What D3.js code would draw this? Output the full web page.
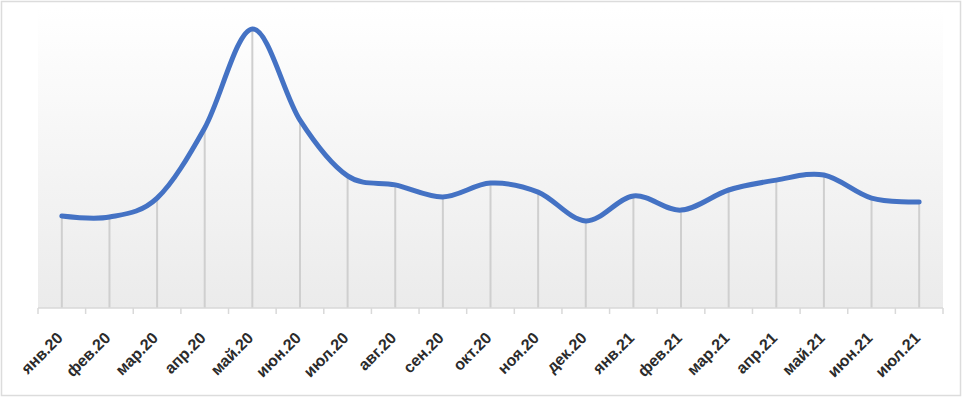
<!DOCTYPE html>
<html>
<head>
<meta charset="utf-8">
<script src="https://cdn.jsdelivr.net/npm/d3@7"></script>
<style>
  body { margin: 0; background: #fff; }
  svg { display: block; }
</style>
</head>
<body>
<script>
let width = 964;
let height = 398;

// months on the x axis
let months = ['янв.20', 'фев.20', 'мар.20', 'апр.20', 'май.20', 'июн.20', 'июл.20',
  'авг.20', 'сен.20', 'окт.20', 'ноя.20', 'дек.20', 'янв.21', 'фев.21', 'мар.21',
  'апр.21', 'май.21', 'июн.21', 'июл.21'];

// series values (no y axis in the original, so relative units)
let values = [30.3, 30.0, 36.3, 59.7, 92.7, 62.3, 43.7, 40.7, 36.7, 41.3, 38.3,
  28.7, 37.0, 32.3, 39.0, 42.3, 44.0, 36.3, 35.0];

let plot = {left: 38, right: 943, top: 8, bottom: 308};

let svg = d3.select('body')
    .append('svg')
    .attr('width', width)
    .attr('height', height);

// outer frame
svg.append('rect')
    .attr('x', 1.5).attr('y', 1.5)
    .attr('width', 959).attr('height', 394)
    .attr('fill', '#fff')
    .attr('stroke', '#dcdcdc')
    .attr('stroke-width', 1.5);

let grad = svg.append('defs').append('linearGradient')
    .attr('id', 'bg')
    .attr('x1', 0).attr('y1', 0).attr('x2', 0).attr('y2', 1);
grad.append('stop').attr('offset', '0%').attr('stop-color', '#ffffff');
grad.append('stop').attr('offset', '100%').attr('stop-color', '#ebebeb');

svg.append('rect')
    .attr('x', plot.left).attr('y', plot.top)
    .attr('width', plot.right - plot.left)
    .attr('height', plot.bottom - plot.top)
    .attr('fill', 'url(#bg)');

let x = d3.scaleBand()
    .domain(months)
    .range([plot.left, plot.right]);

let y = d3.scaleLinear()
    .domain([0, 100])
    .range([plot.bottom - 1, plot.top - 1]);

let data = months.map((m, i) => ({month: m, value: values[i]}));
let cx = (d) => x(d.month) + x.bandwidth() / 2;

// drop lines
svg.append('g')
  .selectAll('line')
  .data(data)
  .enter().append('line')
    .attr('x1', cx).attr('x2', cx)
    .attr('y1', (d) => y(d.value))
    .attr('y2', plot.bottom)
    .attr('stroke', '#cfcfcf')
    .attr('stroke-width', 2);

// x axis
let axis = svg.append('g')
    .attr('transform', `translate(0,${plot.bottom})`);

axis.append('line')
    .attr('x1', plot.left).attr('x2', plot.right)
    .attr('stroke', '#d9d9d9')
    .attr('stroke-width', 1.5);

axis.selectAll('.tick')
    .data(months.concat(['end']))
  .enter().append('line')
    .attr('class', 'tick')
    .attr('x1', (d, i) => plot.left + i * x.step())
    .attr('x2', (d, i) => plot.left + i * x.step())
    .attr('y1', 0).attr('y2', 6)
    .attr('stroke', '#d9d9d9')
    .attr('stroke-width', 1.5);

axis.selectAll('text')
    .data(data)
  .enter().append('text')
    .attr('transform', (d) => `translate(${cx(d) + 2},${31}) rotate(-45)`)
    .attr('text-anchor', 'end')
    .attr('font-family', 'Liberation Sans, Arial, sans-serif')
    .attr('font-weight', 'bold')
    .attr('font-size', 16)
    .attr('fill', '#2b2b2b')
    .text((d) => d.month);

// the series line
let line = d3.line()
    .x(cx)
    .y((d) => y(d.value))
    .curve(d3.curveCardinal.tension(0));

svg.append('path')
    .datum(data)
    .attr('d', line)
    .attr('fill', 'none')
    .attr('stroke', '#4472c4')
    .attr('stroke-width', 5)
    .attr('stroke-linecap', 'round');
</script>
</body>
</html>
